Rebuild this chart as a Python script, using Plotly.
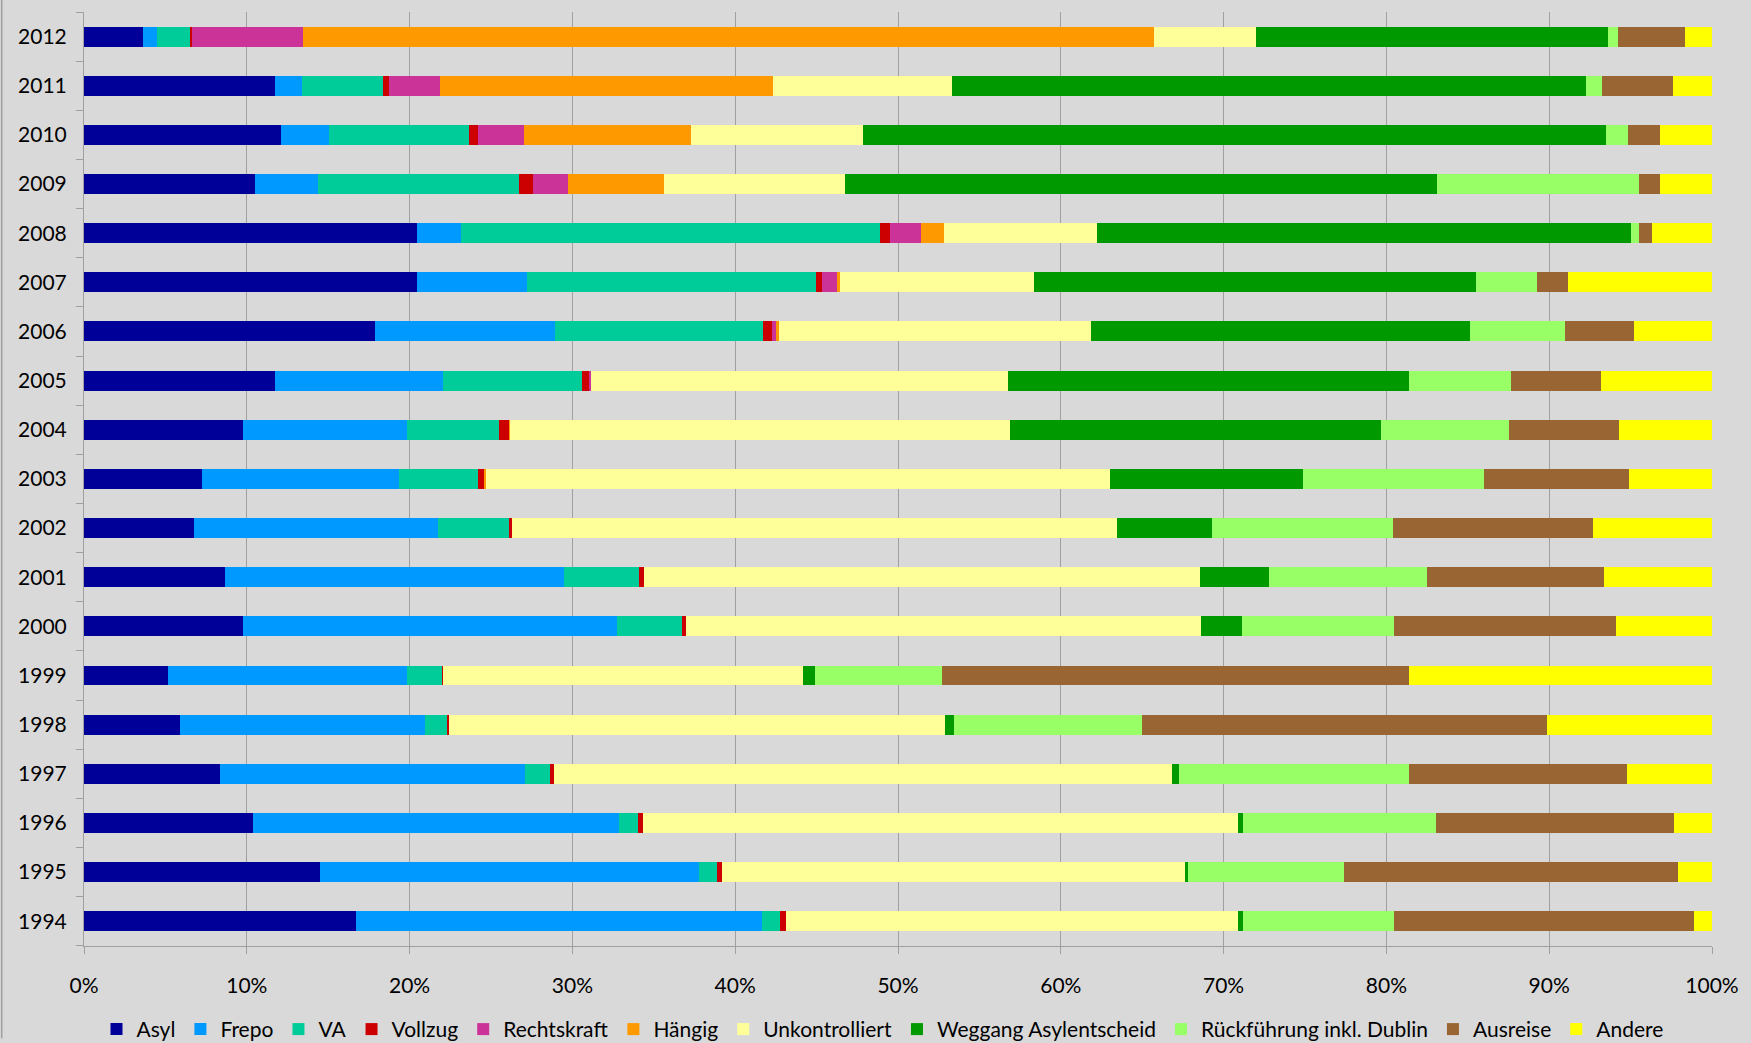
import plotly.graph_objects as go

years = [str(y) for y in range(1994, 2013)]

series_names = ["Asyl", "Frepo", "VA", "Vollzug", "Rechtskraft", "Hängig",
                "Unkontrolliert", "Weggang Asylentscheid",
                "Rückführung inkl. Dublin", "Ausreise", "Andere"]

asyl = [16.68, 14.47, 10.37, 8.35, 5.89, 5.16, 9.76, 8.66, 6.76, 7.25, 9.76,
        11.73, 17.85, 20.43, 20.48, 10.49, 12.08, 11.73, 3.64]
frepo = [24.95, 23.31, 22.51, 18.76, 15.08, 14.71, 22.98, 20.85, 15.01, 12.08,
         10.11, 10.30, 11.10, 6.80, 2.70, 3.87, 2.96, 1.64, 0.84]
va = [1.10, 1.10, 1.12, 1.53, 1.36, 2.13, 3.99, 4.59, 4.36, 4.90, 5.65, 8.58,
      12.75, 17.71, 25.70, 12.38, 8.63, 4.97, 2.04]
vollzug = [0.38, 0.33, 0.33, 0.24, 0.10, 0.05, 0.25, 0.30, 0.19, 0.35, 0.61,
           0.47, 0.54, 0.37, 0.61, 0.87, 0.56, 0.38, 0.10]
rechtskraft = [0, 0, 0, 0, 0, 0, 0, 0, 0, 0, 0, 0.07, 0.26, 0.92, 1.90, 2.13,
               2.82, 3.12, 6.82]
haengig = [0, 0, 0, 0, 0, 0, 0, 0, 0, 0.14, 0.04, 0, 0.18, 0.18, 1.45, 5.88,
           10.24, 20.47, 52.28]
unkontrolliert = [27.76, 28.42, 36.54, 37.94, 30.48, 22.09, 31.61, 34.14,
                  37.15, 38.30, 30.73, 25.63, 19.19, 11.97, 9.39, 11.10, 10.53,
                  11.02, 6.25]
weggang = [0.35, 0.16, 0.35, 0.41, 0.56, 0.75, 2.51, 4.23, 5.80, 11.88, 22.78,
           24.62, 23.26, 27.10, 32.78, 36.39, 45.68, 38.95, 21.65]
rueckfuehrung = [9.24, 9.62, 11.82, 14.17, 11.52, 7.79, 9.36, 9.73, 11.14,
                 11.07, 7.82, 6.24, 5.82, 3.80, 0.49, 12.41, 1.36, 0.99, 0.61]
ausreise = [18.44, 20.50, 14.64, 13.39, 24.90, 28.72, 13.65, 10.89, 12.25,
            8.94, 6.80, 5.55, 4.27, 1.90, 0.80, 1.29, 1.95, 4.34, 4.10]
andere = [1.10, 2.09, 2.32, 5.21, 10.11, 18.60, 5.89, 6.61, 7.34, 5.09, 5.70,
          6.81, 4.78, 8.82, 3.70, 3.19, 3.19, 2.39, 1.67]

x_ticks = list(range(0, 101, 10))
x_tick_labels = [f"{v}%" for v in x_ticks]

all_values = [asyl, frepo, va, vollzug, rechtskraft, haengig, unkontrolliert,
              weggang, rueckfuehrung, ausreise, andere]
colors = ["#000099", "#0099FF", "#00CC99", "#CC0000", "#CC3399", "#FF9900",
          "#FFFF99", "#009900", "#99FF66", "#996633", "#FFFF00"]

FONT = "Lato"
W, H = 1751, 1043
ML, MR, MT, MB = 84, 35, 12, 93
PW = W - ML - MR
PH = H - MT - MB

fig = go.Figure()
for name, vals, col in zip(series_names, all_values, colors):
    fig.add_trace(go.Bar(
        y=years, x=vals, name=name, orientation="h",
        marker=dict(color=col, line=dict(width=0)),
    ))

fig.update_layout(
    barmode="stack",
    barnorm="percent",
    bargap=0.595,
    width=W, height=H,
    margin=dict(l=ML, r=MR, t=MT, b=MB),
    paper_bgcolor="#D9D9D9",
    plot_bgcolor="#D9D9D9",
    font=dict(family=FONT, size=21, color="#000000"),
    showlegend=True,
    legend=dict(
        orientation="h",
        xref="container", yref="container",
        x=0.504, xanchor="center",
        y=0.013, yanchor="middle",
        font=dict(family=FONT, size=21, color="#000000"),
        traceorder="normal",
        bgcolor="rgba(0,0,0,0)",
    ),
    xaxis=dict(
        range=[0, 100],
        tickvals=x_ticks,
        ticktext=x_tick_labels,
        showgrid=True, gridcolor="#A0A0A0", gridwidth=1,
        zeroline=False,
        showline=True, linecolor="#A0A0A0", linewidth=1,
        ticks="outside", ticklen=7, tickcolor="#A0A0A0",
        ticklabelstandoff=14,
        fixedrange=True,
    ),
    yaxis=dict(
        type="category",
        categoryorder="array", categoryarray=years,
        showgrid=False,
        showline=True, linecolor="#A0A0A0", linewidth=1,
        ticks="outside", ticklen=7, tickcolor="#A0A0A0",
        tickson="boundaries",
        ticklabelstandoff=12,
        fixedrange=True,
    ),
)

fig.add_shape(type="line", xref="paper", yref="paper",
              x0=-(ML - 1.5) / PW, x1=-(ML - 1.5) / PW,
              y0=-MB / PH, y1=1 + MT / PH,
              line=dict(color="#A0A0A0", width=1.5))

fig.write_html(
    "out.html",
    config={"displayModeBar": False},
    post_script="document.body.style.margin='0';"
                "document.body.style.backgroundColor='#D9D9D9';"
                "document.body.style.overflow='hidden';",
)
